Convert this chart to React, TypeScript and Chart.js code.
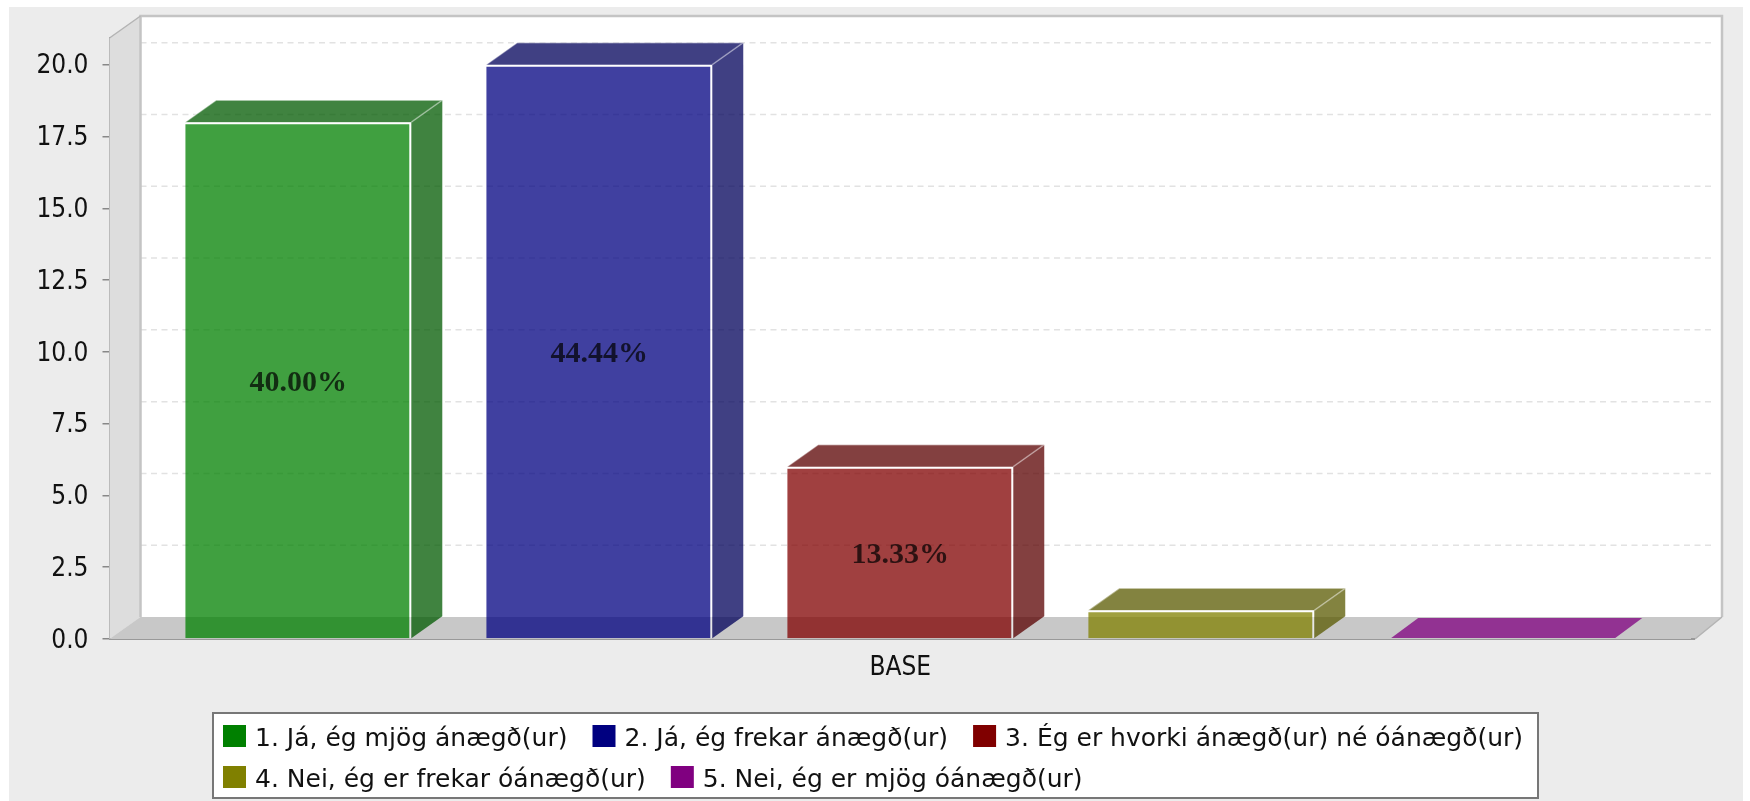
import React, { useEffect, useRef } from "react";
import { Chart, registerables } from "chart.js";

Chart.register(...registerables);

const categories = ["BASE"];
const seriesLabels = [
  "1. Já, ég mjög ánægð(ur)",
  "2. Já, ég frekar ánægð(ur)",
  "3. Ég er hvorki ánægð(ur) né óánægð(ur)",
  "4. Nei, ég er frekar óánægð(ur)",
  "5. Nei, ég er mjög óánægð(ur)",
];
const seriesValues = [18, 20, 6, 1, 0];
const percentLabels = ["40.00%", "44.44%", "13.33%", "", ""];
const baseRgb = [
  [0, 128, 0],
  [0, 0, 128],
  [128, 0, 0],
  [128, 128, 0],
  [128, 0, 128],
];
const legendRowSizes = [3, 2];

const FONT = '"DejaVu Sans Condensed", "DejaVu Sans", sans-serif';
const LEGEND_FONT = '"DejaVu Sans", sans-serif';
const DX = 31;
const DY = 22;
const FLOOR_EXTRA = 4;
const ALPHA = 0.75;

const rgba = (c: number[], a: number, k = 1) =>
  `rgba(${Math.round(c[0] * k)},${Math.round(c[1] * k)},${Math.round(c[2] * k)},${a})`;

const poly = (ctx: CanvasRenderingContext2D, pts: number[][], fill?: string) => {
  ctx.beginPath();
  pts.forEach((p, i) => (i ? ctx.lineTo(p[0], p[1]) : ctx.moveTo(p[0], p[1])));
  ctx.closePath();
  if (fill) {
    ctx.fillStyle = fill;
    ctx.fill();
  }
};

const scene3d = {
  id: "scene3d",
  beforeDraw(chart: any) {
    const { ctx, width, height } = chart;
    ctx.save();
    ctx.fillStyle = "#ffffff";
    ctx.fillRect(0, 0, width, height);
    ctx.fillStyle = "#ececec";
    ctx.fillRect(9, 7, 1734, height - 7);
    ctx.restore();
  },
  beforeDatasetsDraw(chart: any) {
    const { ctx, chartArea: a, scales } = chart;
    const fr = a.right + FLOOR_EXTRA;
    ctx.save();
    // back wall
    ctx.fillStyle = "#ffffff";
    ctx.fillRect(a.left + DX, a.top - DY, a.right - a.left, a.bottom - a.top);
    // side wall and floor
    poly(ctx, [[a.left, a.top], [a.left + DX, a.top - DY], [a.left + DX, a.bottom - DY], [a.left, a.bottom]], "#dddddd");
    poly(ctx, [[a.left, a.bottom], [a.left + DX, a.bottom - DY], [a.right + DX, a.bottom - DY], [fr, a.bottom]], "#c8c8c8");
    // gridlines on the back wall
    ctx.setLineDash([6, 4.5]);
    ctx.strokeStyle = "#e2e2e2";
    ctx.lineWidth = 1.5;
    scales.y.ticks.forEach((t: any) => {
      if (t.value === 0) return;
      const y = scales.y.getPixelForValue(t.value) - DY;
      ctx.beginPath();
      ctx.moveTo(a.left + DX, y);
      ctx.lineTo(a.right + DX - 8, y);
      ctx.stroke();
    });
    ctx.setLineDash([]);
    // wall outlines
    ctx.strokeStyle = "#c4c4c4";
    ctx.lineWidth = 2.5;
    ctx.beginPath();
    ctx.moveTo(a.left + DX, a.bottom - DY);
    ctx.lineTo(a.left + DX, a.top - DY);
    ctx.lineTo(a.right + DX, a.top - DY);
    ctx.lineTo(a.right + DX, a.bottom - DY);
    ctx.stroke();
    ctx.strokeStyle = "#b4b4b4";
    ctx.lineWidth = 1.5;
    ctx.beginPath();
    ctx.moveTo(a.left, a.top);
    ctx.lineTo(a.left + DX, a.top - DY);
    ctx.moveTo(fr, a.bottom);
    ctx.lineTo(a.right + DX, a.bottom - DY);
    ctx.stroke();
    // bottom edge continues to the floor corner
    ctx.strokeStyle = "#999999";
    ctx.lineWidth = 2;
    ctx.beginPath();
    ctx.moveTo(a.right, a.bottom);
    ctx.lineTo(fr, a.bottom);
    ctx.stroke();
    // bar depth faces
    chart.data.datasets.forEach((ds: any, i: number) => {
      const el = chart.getDatasetMeta(i).data[0];
      if (!el) return;
      const l = el.x - el.width / 2;
      const r = el.x + el.width / 2;
      const t = el.y;
      const b = el.base;
      const c = baseRgb[i];
      if (t >= b - 0.5) {
        // a zero-height bar shows only its lid, lying on the floor
        poly(ctx, [[l + 2, t - 1], [l + 29, t - DY + 1], [r + 27, t - DY + 1], [r, t - 1]], rgba(c, ALPHA));
        return;
      }
      poly(ctx, [[r, t], [r + DX, t - DY], [r + DX, b - DY], [r, b]], rgba(c, ALPHA, 0.7));
      poly(ctx, [[l, t], [l + DX, t - DY], [r + DX, t - DY], [r, t]], rgba(c, ALPHA, 0.7));
      ctx.strokeStyle = "rgba(255,255,255,0.4)";
      ctx.lineWidth = 1.5;
      ctx.beginPath();
      ctx.moveTo(l, t);
      ctx.lineTo(l + DX, t - DY);
      ctx.lineTo(r + DX, t - DY);
      ctx.moveTo(r, t);
      ctx.lineTo(r + DX, t - DY);
      ctx.stroke();
    });
    ctx.restore();
  },
  afterDatasetsDraw(chart: any) {
    const { ctx } = chart;
    ctx.save();
    // value labels
    ctx.font = 'bold 30px "Liberation Serif", serif';
    ctx.textAlign = "center";
    ctx.textBaseline = "middle";
    ctx.fillStyle = "rgba(0,0,0,0.72)";
    percentLabels.forEach((txt, i) => {
      const el = chart.getDatasetMeta(i).data[0];
      if (txt && el) ctx.fillText(txt, el.x, (el.y + el.base) / 2 + 3);
    });
    // legend
    const box = { x: 213, y: 713, w: 1325, h: 85 };
    ctx.fillStyle = "#ffffff";
    ctx.fillRect(box.x, box.y, box.w, box.h);
    ctx.strokeStyle = "#777777";
    ctx.lineWidth = 2;
    ctx.strokeRect(box.x, box.y, box.w, box.h);
    ctx.font = `25px ${LEGEND_FONT}`;
    ctx.textAlign = "left";
    ctx.textBaseline = "middle";
    let idx = 0;
    legendRowSizes.forEach((n, row) => {
      let x = box.x + 10;
      const cy = box.y + 25 + row * 41;
      for (let k = 0; k < n; k++, idx++) {
        const ds = chart.data.datasets[idx];
        ctx.fillStyle = rgba(baseRgb[idx], 1);
        ctx.fillRect(x, cy - 13, 23, 22);
        ctx.fillStyle = "#111111";
        ctx.fillText(ds.label, x + 32, cy + 1);
        x += 32 + ctx.measureText(ds.label).width + 25;
      }
    });
    ctx.restore();
  },
};

export default function App() {
  const ref = useRef<HTMLCanvasElement>(null);
  useEffect(() => {
    if (!ref.current) return;
    const chart = new Chart(ref.current, {
      type: "bar",
      data: {
        labels: categories,
        datasets: seriesLabels.map((label, i) => ({
          label,
          data: [seriesValues[i]],
          backgroundColor: rgba(baseRgb[i], ALPHA),
          borderColor: rgba([255, 255, 255], 0.55),
          borderWidth: seriesValues[i] > 0 ? { top: 2, right: 2, left: 0, bottom: 0 } : 0,
          borderSkipped: false,
          categoryPercentage: 0.9516,
          barPercentage: 0.751,
        })),
      },
      options: {
        responsive: false,
        animation: false,
        layout: { padding: { left: 9, right: 59, top: 38, bottom: 102 } },
        plugins: {
          legend: { display: false },
          title: { display: false },
          tooltip: { enabled: false },
        },
        scales: {
          x: {
            afterFit: (s: any) => {
              s.height = 60;
            },
            grid: { display: false },
            border: { display: true, color: "#999999", width: 2 },
            ticks: {
              maxRotation: 0,
              padding: 6,
              color: "#111111",
              font: { family: FONT, size: 26 },
            },
          },
          y: {
            min: 0,
            max: 20.93,
            afterFit: (s: any) => {
              s.width = 100.5;
            },
            grid: { drawOnChartArea: false, drawTicks: true, tickLength: 7, color: "#888888", lineWidth: 1.5 },
            border: { display: true, color: "#999999", width: 2 },
            ticks: {
              stepSize: 2.5,
              includeBounds: false,
              padding: 14,
              labelOffset: 2,
              color: "#111111",
              font: { family: FONT, size: 26 },
              callback: (v: any) => Number(v).toFixed(1),
            },
          },
        },
      },
      plugins: [scene3d],
    } as any);
    return () => chart.destroy();
  }, []);
  return (
    <canvas
      ref={ref}
      width={1750}
      height={801}
      style={{ position: "absolute", left: 0, top: 0, display: "block" }}
    />
  );
}
